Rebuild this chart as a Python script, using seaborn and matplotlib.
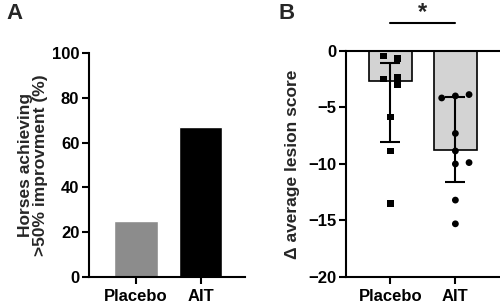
import numpy as np
import pandas as pd
import seaborn as sns
from matplotlib import pyplot as plt

groups = ["Placebo", "AIT"]

# panel A - % horses with >50% improvement
pct_improved = [25, 67]
colors_a = ["#8c8c8c", "#000000"]

# panel B - change in average lesion score
bar_b = [-2.65, -8.75]
err_top = [-1.06, -4.07]
err_bot = [-8.1, -11.6]

placebo_pts = [-0.45, -0.68, -2.48, -2.36, -2.98, -5.84, -8.85, -13.5]
placebo_off = [-0.11, 0.11, -0.11, 0.11, 0.11, 0, 0, 0]
ait_pts = [-4.16, -3.98, -3.86, -7.3, -8.85, -10.0, -9.88, -13.2, -15.3]
ait_off = [-0.21, 0, 0.21, 0, 0, 0, 0.21, 0, 0]

sns.set_style("ticks")
plt.rcParams['font.family'] = ['Liberation Sans', 'DejaVu Sans']
plt.rcParams['font.weight'] = 'bold'
plt.rcParams['axes.labelweight'] = 'bold'
plt.rcParams['axes.linewidth'] = 1.5
plt.rcParams['xtick.major.width'] = 1.5
plt.rcParams['ytick.major.width'] = 1.5
plt.rcParams['xtick.major.size'] = 5
plt.rcParams['ytick.major.size'] = 5
plt.rcParams['xtick.major.pad'] = 4
plt.rcParams['ytick.major.pad'] = 2
plt.rcParams['xtick.color'] = 'black'
plt.rcParams['ytick.color'] = 'black'
plt.rcParams['axes.edgecolor'] = 'black'

fig = plt.figure(figsize=(5, 3.07), dpi=100)

# ---------- A ----------
axA = fig.add_axes([0.178, 0.098, 0.312, 0.729])
sns.barplot(x=groups, y=pct_improved, hue=groups, palette=colors_a,
            width=0.67, legend=False, ax=axA, saturation=1)
axA.set_ylim(0, 100)
axA.set_yticks([0, 20, 40, 60, 80, 100])
axA.set_xlim(-0.73, 1.69)
axA.set_ylabel("Horses achieving\n>50% improvment (%)", fontsize=12.5, labelpad=3,
               linespacing=1.0)
axA.tick_params(labelsize=12)
sns.despine(ax=axA)

# ---------- B ----------
axB = fig.add_axes([0.692, 0.098, 0.306, 0.736])
sns.barplot(x=groups, y=bar_b, color="#d3d3d3", edgecolor="black",
            linewidth=1.2, width=0.66, ax=axB, saturation=1, zorder=1)
lower = np.array(bar_b) - np.array(err_bot)
upper = np.array(err_top) - np.array(bar_b)
axB.errorbar([0, 1], bar_b, yerr=[lower, upper], fmt="none", ecolor="black",
             elinewidth=1.5, capsize=7.5, capthick=1.5, zorder=3)

pts = pd.DataFrame({
    "x": [0 + o for o in placebo_off] + [1 + o for o in ait_off],
    "y": placebo_pts + ait_pts,
    "grp": ["Placebo"] * len(placebo_pts) + ["AIT"] * len(ait_pts),
})
sns.scatterplot(data=pts, x="x", y="y", style="grp", markers={"Placebo": "s", "AIT": "o"},
                color="black", s=24, edgecolor="none", legend=False, ax=axB, zorder=4)

axB.set_ylim(-20, 0)
axB.set_yticks([0, -5, -10, -15, -20])
axB.set_xlim(-0.68, 1.67)
axB.set_xticks([0, 1])
axB.set_xticklabels(groups)
axB.set_xlabel("")
axB.set_ylabel("\u0394 average lesion score", fontsize=12.5, labelpad=6)
axB.tick_params(labelsize=12)
axB.spines["right"].set_visible(False)

# significance bar
axB.plot([0, 1], [2.5, 2.5], color="black", lw=1.5, clip_on=False)
axB.text(0.5, 2.4, "*", ha="center", va="bottom", fontsize=17, fontweight="bold")

fig.text(0.012, 0.99, "A", fontsize=16, fontweight="bold", va="top")
fig.text(0.556, 0.99, "B", fontsize=16, fontweight="bold", va="top")

plt.savefig("out.png", dpi=100)
